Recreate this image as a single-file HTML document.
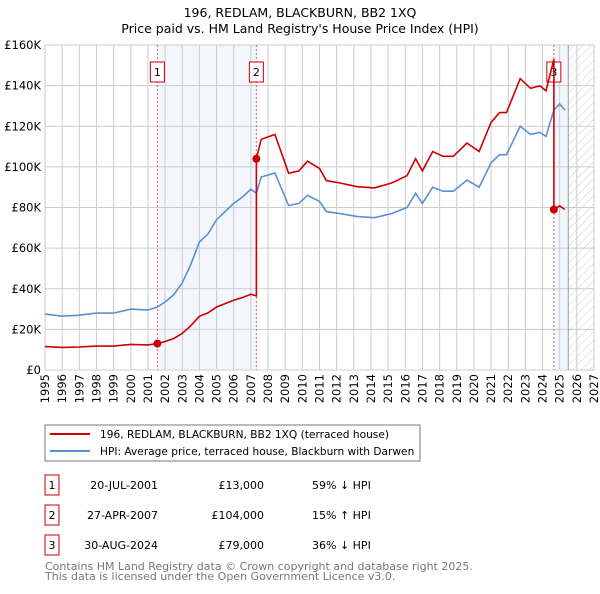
<!DOCTYPE html>
<html><head><meta charset="utf-8"><style>
body{margin:0;background:#fff;font-family:"DejaVu Sans","Liberation Sans",sans-serif;}
svg text{font-family:"DejaVu Sans","Liberation Sans",sans-serif;}
</style></head><body>
<svg id="c" width="600" height="590" xmlns="http://www.w3.org/2000/svg">
<defs><pattern id="hatch" width="6" height="6" patternUnits="userSpaceOnUse" patternTransform="rotate(45)"><line x1="0" y1="0" x2="0" y2="6" stroke="#ccc" stroke-width="1"/></pattern></defs>
<text x="300" y="17" text-anchor="middle" font-size="12.5">196, REDLAM, BLACKBURN, BB2 1XQ</text>
<text x="300" y="33" text-anchor="middle" font-size="12.5">Price paid vs. HM Land Registry's House Price Index (HPI)</text>
<g id="plot"></g>
<g>
<rect x="45" y="425" width="375" height="36" fill="#fff" stroke="#777"/>
<line x1="50" y1="434" x2="90" y2="434" stroke="#cc0000" stroke-width="2"/>
<text x="100" y="438" font-size="10.6">196, REDLAM, BLACKBURN, BB2 1XQ (terraced house)</text>
<line x1="50" y1="451" x2="90" y2="451" stroke="#5b8fd4" stroke-width="2"/>
<text x="100" y="455" font-size="10.6">HPI: Average price, terraced house, Blackburn with Darwen</text>
</g>
<g font-size="11">
<rect x="45" y="475" width="14" height="20" fill="#fff" stroke="#c00"/><text x="52" y="489" text-anchor="middle">1</text>
<text x="158" y="489" text-anchor="end">20-JUL-2001</text><text x="264" y="489" text-anchor="end">£13,000</text><text x="312" y="489">59% ↓ HPI</text>
<rect x="45" y="505" width="14" height="20" fill="#fff" stroke="#c00"/><text x="52" y="519" text-anchor="middle">2</text>
<text x="158" y="519" text-anchor="end">27-APR-2007</text><text x="264" y="519" text-anchor="end">£104,000</text><text x="312" y="519">15% ↑ HPI</text>
<rect x="45" y="535" width="14" height="20" fill="#fff" stroke="#c00"/><text x="52" y="549" text-anchor="middle">3</text>
<text x="158" y="549" text-anchor="end">30-AUG-2024</text><text x="264" y="549" text-anchor="end">£79,000</text><text x="312" y="549">36% ↓ HPI</text>
</g>
<text x="45" y="570" font-size="11" fill="#777">Contains HM Land Registry data © Crown copyright and database right 2025.</text>
<text x="45" y="580" font-size="11" fill="#777">This data is licensed under the Open Government Licence v3.0.</text>
</svg>
<script>
const hpiYears=[1995,1996,1997,1998,1999,2000,2001,2001.55,2002,2002.5,2003,2003.5,2004,2004.5,2005,2005.5,2006,2006.5,2007,2007.32,2007.6,2008.4,2008.9,2009.2,2009.8,2010.3,2011,2011.4,2012.2,2013.2,2014.2,2015.2,2016.1,2016.6,2017.0,2017.6,2018.2,2018.8,2019.6,2020.3,2021.0,2021.5,2021.9,2022.7,2023.3,2023.85,2024.2,2024.66,2025.0,2025.3];
const hpiValues=[27.5,26.5,27,28,28,30,29.5,31,33.5,37,43,52,63,67,74,78,82,85,89,87,95,97,87,81,82,86,83,78,77,75.5,75,77,80,87,82,90,88,88,93.5,90,102,106,106,120,116,117,115,128,131,128];
const saleYears=[2001.55,2007.32,2024.66];
const salePrices=[13,104,79];
const saleLabels=["1","2","3"];
const yTicks=[0,20,40,60,80,100,120,140,160];
const yTickLabels=["£0","£20K","£40K","£60K","£80K","£100K","£120K","£140K","£160K"];
const xTicks=[1995,1996,1997,1998,1999,2000,2001,2002,2003,2004,2005,2006,2007,2008,2009,2010,2011,2012,2013,2014,2015,2016,2017,2018,2019,2020,2021,2022,2023,2024,2025,2026,2027];

const L=45,R=594,T=45,B=370,X0=1995,X1=2027,YMAX=160,HATCH=2025.5;
const xs=v=>L+(v-X0)/(X1-X0)*(R-L);
const ys=v=>B-v/YMAX*(B-T);
const NS="http://www.w3.org/2000/svg";
const g=document.getElementById('plot');
function mk(t,a,p){const e=document.createElementNS(NS,t);for(const k in a)e.setAttribute(k,a[k]);(p||g).appendChild(e);return e;}
function hpiAt(yr){for(let i=0;i<hpiYears.length-1;i++){if(yr>=hpiYears[i]&&yr<=hpiYears[i+1]){const f=(yr-hpiYears[i])/(hpiYears[i+1]-hpiYears[i]);return hpiValues[i]+f*(hpiValues[i+1]-hpiValues[i]);}}return hpiValues[hpiYears.length-1];}

let e=mk('rect',{x:xs(saleYears[0]),y:T,width:xs(saleYears[1])-xs(saleYears[0]),height:B-T,fill:'#eef3fc',opacity:0.7});


e=mk('rect',{x:xs(saleYears[2]),y:T,width:xs(HATCH)-xs(saleYears[2]),height:B-T,fill:'#eef3fc',opacity:0.7});


e=mk('rect',{x:xs(HATCH),y:T,width:R-xs(HATCH),height:B-T,fill:'url(#hatch)'});


xTicks.forEach((t,i)=>{const x=xs(t);
 let l=mk('line',{x1:x,y1:T,x2:x,y2:B,stroke:'#cccccc','stroke-width':1});
 
 
 let tx=mk('text',{x:0,y:0,'text-anchor':'end','font-size':11.5,transform:'translate('+(x+4)+','+(B+4)+') rotate(-90)'});tx.textContent=t;
 
 
});
yTicks.forEach((t,i)=>{const y=ys(t);
 let l=mk('line',{x1:L,y1:y,x2:R,y2:y,stroke:'#cccccc','stroke-width':1});
 
 
 let tx=mk('text',{x:L-4,y:y+4,'text-anchor':'end','font-size':11.5});tx.textContent=yTickLabels[i];
 
 
});
e=mk('line',{x1:xs(HATCH),y1:T,x2:xs(HATCH),y2:B,stroke:'#999','stroke-width':1});


saleYears.forEach((s,i)=>{
 let l=mk('line',{x1:xs(s),y1:T,x2:xs(s),y2:B,stroke:'#e06060','stroke-width':1,'stroke-dasharray':'2,2'});
 
 
 let r=mk('rect',{x:xs(s)-7,y:T+17,width:14,height:20,fill:'#fff',stroke:'#c00'});
 
 
 let t=mk('text',{x:xs(s),y:T+31,'text-anchor':'middle','font-size':11});t.textContent=saleLabels[i];
 
 
});
let d=hpiYears.map((yr,i)=>(i?'L':'M')+xs(yr).toFixed(1)+','+ys(hpiValues[i]).toFixed(1)).join('');
e=mk('path',{d:d,fill:'none',stroke:'#5b8fd4','stroke-width':1.6});


let pts=[];
function seg(a,b,ratio){hpiYears.forEach((yr,i)=>{if(yr>=a&&yr<=b)pts.push([yr,hpiValues[i]*ratio]);});}
const r0=salePrices[0]/hpiAt(saleYears[0]);
seg(X0,saleYears[1],r0);pts.push([saleYears[1],hpiAt(saleYears[1])*r0]);
const r1=salePrices[1]/hpiAt(saleYears[1]);
pts.push([saleYears[1],salePrices[1]]);seg(saleYears[1]+0.001,saleYears[2],r1);pts.push([saleYears[2],hpiAt(saleYears[2])*r1]);
const r2=salePrices[2]/hpiAt(saleYears[2]);
pts.push([saleYears[2],salePrices[2]]);seg(saleYears[2]+0.001,2030,r2);
d=pts.map((p,i)=>(i?'L':'M')+xs(p[0]).toFixed(1)+','+ys(p[1]).toFixed(1)).join('');
e=mk('path',{d:d,fill:'none',stroke:'#cc0000','stroke-width':1.6});


saleYears.forEach((s,i)=>{
 let c=mk('circle',{cx:xs(s),cy:ys(salePrices[i]),r:4,fill:'#cc0000'});
 
 
});
</script>
</body></html>
